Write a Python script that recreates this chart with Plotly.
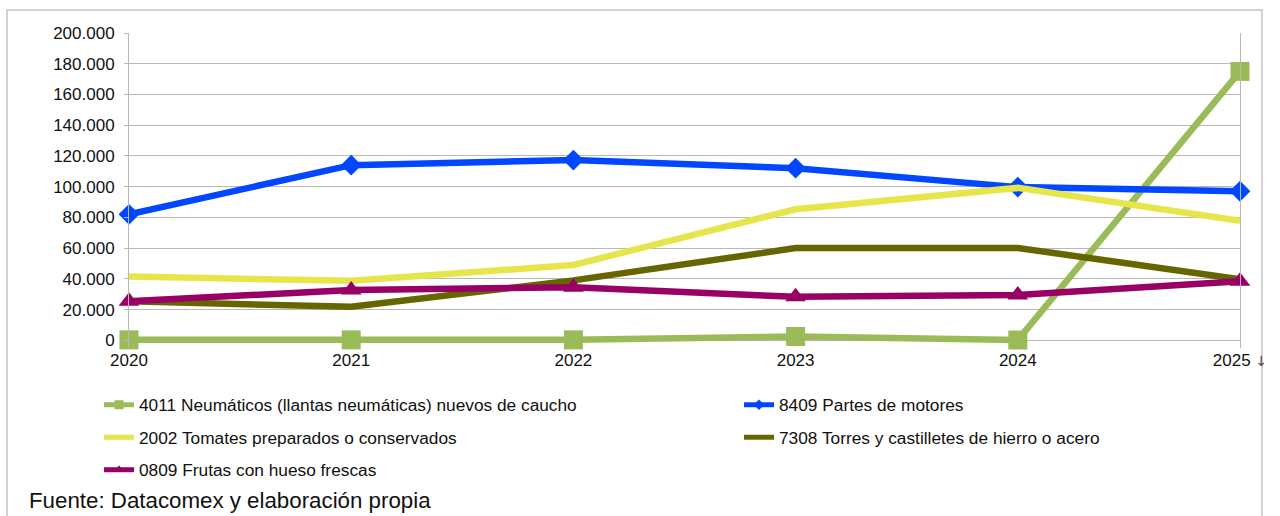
import plotly.graph_objects as go

years = ["2020", "2021", "2022", "2023", "2024", "2025"]
tick_labels = ["2020", "2021", "2022", "2023", "2024",
               "2025 <span style='font-family:DejaVu Sans;font-size:14px;color:#444'>↓</span>"]

names = [
    "4011 Neumáticos (llantas neumáticas) nuevos de caucho",
    "8409 Partes de motores",
    "2002 Tomates preparados o conservados",
    "7308 Torres y castilletes de hierro o acero",
    "0809 Frutas con hueso frescas",
]
neumaticos = [300, 300, 300, 2500, 200, 175000]
partes_motores = [82000, 114000, 117300, 112000, 99700, 97000]
tomates = [41500, 38800, 49000, 85300, 99200, 77800]
torres = [25400, 21800, 39000, 60000, 60100, 39800]
frutas = [25400, 32800, 34500, 28300, 29500, 38400]

series = [neumaticos, partes_motores, tomates, torres, frutas]
colors = ["#9BBB59", "#0047FF", "#E6E64C", "#666600", "#990066"]
symbols = ["square", "diamond", "circle", "circle", "triangle-up"]
sizes = [19, 16, 0, 0, 18]
legend_sizes = [9, 8, 0, 0, 9]
legends = ["legend", "legend2", "legend", "legend2", "legend"]

FONT = "Liberation Sans, Arial, sans-serif"

fig = go.Figure()
for i, (nm, vals) in enumerate(zip(names, series)):
    has_marker = sizes[i] > 0
    fig.add_trace(go.Scatter(
        x=years, y=vals, name=nm,
        mode="lines+markers" if has_marker else "lines",
        line=dict(color=colors[i], width=6.5),
        marker=dict(symbol=symbols[i], size=sizes[i], color=colors[i]) if has_marker else None,
        cliponaxis=False, showlegend=False,
    ))

# legend-only entries (smaller markers as in the reference legend)
for i, nm in enumerate(names):
    has_marker = legend_sizes[i] > 0
    fig.add_trace(go.Scatter(
        x=[None], y=[None], name=nm,
        mode="lines+markers" if has_marker else "lines",
        line=dict(color=colors[i], width=5),
        marker=dict(symbol=symbols[i], size=legend_sizes[i], color=colors[i]) if has_marker else None,
        legend=legends[i], legendgroup="g%d" % i, showlegend=True,
    ))

grid = "#b8b8b8"
fig.update_layout(
    width=1280, height=516,
    margin=dict(l=129, r=40, t=33, b=168, autoexpand=False),
    paper_bgcolor="white", plot_bgcolor="white",
    separators=",.",
    font=dict(family=FONT, size=16, color="#111111"),
    xaxis=dict(
        type="category", range=[0, 5],
        tickvals=years, ticktext=tick_labels, tickangle=0,
        showgrid=False, zeroline=False, showline=False,
        ticks="", ticklabelstandoff=0,
        tickfont=dict(size=17),
    ),
    yaxis=dict(
        range=[-5000, 200000], tickvals=list(range(0, 200001, 20000)), tickformat=",d",
        showgrid=True, gridcolor=grid, gridwidth=1,
        zeroline=False,
        showline=True, linecolor=grid, linewidth=1, mirror=True,
        ticks="outside", ticklen=4, tickcolor=grid,
        ticklabelstandoff=6,
        tickfont=dict(size=17),
    ),
    legend=dict(
        xref="container", yref="container",
        x=99 / 1280, y=1 - 387 / 516, xanchor="left", yanchor="top",
        font=dict(size=17.3), tracegroupgap=7, bgcolor="rgba(0,0,0,0)",
    ),
    legend2=dict(
        xref="container", yref="container",
        x=739 / 1280, y=1 - 387 / 516, xanchor="left", yanchor="top",
        font=dict(size=17.3), tracegroupgap=7, bgcolor="rgba(0,0,0,0)",
    ),
    showlegend=True,
)

# outer chart frame
fig.add_shape(
    type="rect", xref="paper", yref="paper",
    x0=(7 - 129) / 1111, x1=(1262 - 129) / 1111,
    y0=-1.0, y1=(348 - 10) / 315,
    line=dict(color="#c4c4c4", width=1.5), layer="below",
)

fig.add_annotation(
    text="Fuente: Datacomex y elaboración propia",
    xref="paper", yref="paper",
    x=(27 - 129) / 1111, y=(348 - 500) / 315,
    xanchor="left", yanchor="middle", showarrow=False,
    font=dict(size=22.3, family=FONT, color="#111111"),
)

fig.write_html("out.html", config={"displayModeBar": False},
               post_script="document.body.style.margin='0px';")
